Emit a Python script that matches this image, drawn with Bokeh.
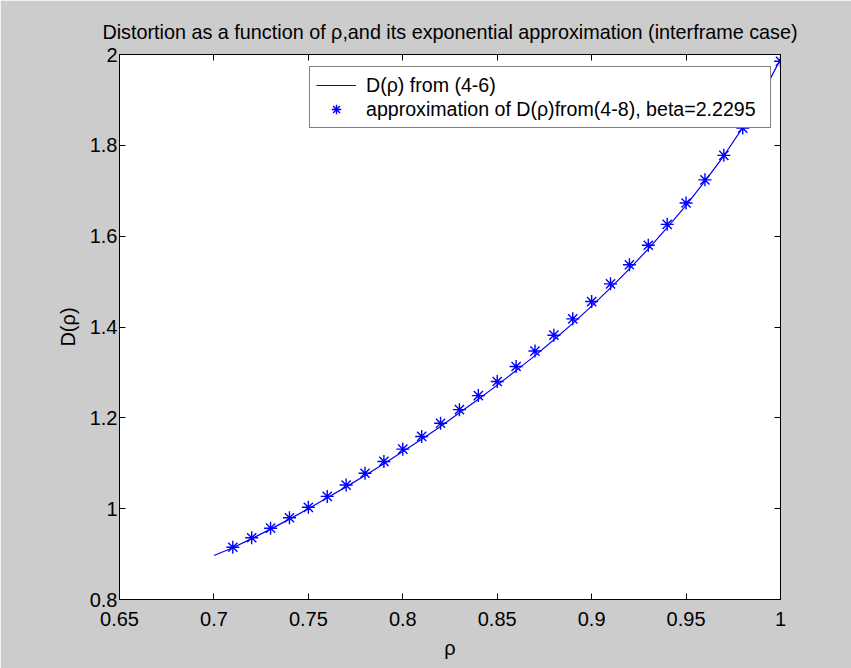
from bokeh.plotting import figure
from bokeh.models import LinearAxis, Range1d, FixedTicker, Legend, LegendItem
from bokeh.embed import file_html
from bokeh.resources import INLINE

# data
rho_curve = [0.70, 0.71, 0.72, 0.73, 0.74, 0.75, 0.76, 0.77, 0.78, 0.79, 0.80,
             0.81, 0.82, 0.83, 0.84, 0.85, 0.86, 0.87, 0.88, 0.89, 0.90,
             0.91, 0.92, 0.93, 0.94, 0.95, 0.96, 0.97, 0.98, 0.99, 1.00]
d_curve = [0.897, 0.914, 0.934, 0.955, 0.977, 1.000, 1.024, 1.048, 1.073, 1.099, 1.126,
           1.153, 1.181, 1.211, 1.241, 1.272, 1.304, 1.337, 1.372, 1.408, 1.446,
           1.486, 1.528, 1.572, 1.619, 1.668, 1.721, 1.777, 1.839, 1.910, 1.990]
rho_approx = [0.71, 0.72, 0.73, 0.74, 0.75, 0.76, 0.77, 0.78, 0.79, 0.80,
              0.81, 0.82, 0.83, 0.84, 0.85, 0.86, 0.87, 0.88, 0.89, 0.90,
              0.91, 0.92, 0.93, 0.94, 0.95, 0.96, 0.97, 0.98, 0.99, 1.00]
d_approx = [0.915, 0.936, 0.957, 0.980, 1.003, 1.027, 1.052, 1.078, 1.104, 1.131,
            1.159, 1.188, 1.218, 1.249, 1.280, 1.313, 1.347, 1.382, 1.418, 1.456,
            1.495, 1.537, 1.580, 1.626, 1.673, 1.724, 1.778, 1.838, 1.905, 1.985]
x_ticks = [0.65, 0.7, 0.75, 0.8, 0.85, 0.9, 0.95, 1.0]
y_ticks = [0.8, 1.0, 1.2, 1.4, 1.6, 1.8, 2.0]

FONT = "Liberation Sans"
FS = "20px"
BG = "#cccccc"

p = figure(width=851, height=668, output_backend="svg", toolbar_location=None,
           x_range=Range1d(0.65, 1.0), y_range=Range1d(0.8, 2.0),
           min_border_left=119, min_border_right=71, min_border_top=54, min_border_bottom=69)
p.background_fill_color = "white"
p.border_fill_color = BG
p.outline_line_color = "black"
p.grid.visible = False

p.title.text = "Distortion as a function of \u03c1,and its exponential approximation (interframe case)"
p.title.align = "center"
p.title.text_font = FONT
p.title.text_font_size = "19.8px"
p.title.text_font_style = "normal"
p.title.text_color = "black"
p.title.standoff = 24

def style_axis(ax, labels=True):
    ax.axis_line_color = "black"
    ax.major_tick_line_color = "black"
    ax.major_tick_in = 6
    ax.major_tick_out = 0
    ax.minor_tick_line_color = None
    ax.major_label_text_font = FONT
    ax.major_label_text_font_size = FS
    ax.major_label_text_color = "black"
    ax.axis_label_text_font = FONT
    ax.axis_label_text_font_size = FS
    ax.axis_label_text_font_style = "normal"
    ax.axis_label_text_color = "black"
    if not labels:
        ax.major_label_text_color = None
        ax.major_label_standoff = 0

p.xaxis.ticker = FixedTicker(ticks=x_ticks)
p.yaxis.ticker = FixedTicker(ticks=y_ticks)
p.xaxis.major_label_overrides = {0.65: "0.65", 0.7: "0.7", 0.75: "0.75", 0.8: "0.8",
                                 0.85: "0.85", 0.9: "0.9", 0.95: "0.95", 1.0: "1"}
p.yaxis.major_label_overrides = {0.8: "0.8", 1.0: "1", 1.2: "1.2", 1.4: "1.4",
                                 1.6: "1.6", 1.8: "1.8", 2.0: "2"}
p.xaxis.axis_label = "\u03c1"
p.yaxis.axis_label = "D(\u03c1)"
style_axis(p.xaxis[0])
style_axis(p.yaxis[0])
p.xaxis.major_label_standoff = 12
p.yaxis.major_label_standoff = 2
p.xaxis.axis_label_standoff = 8
p.yaxis.axis_label_standoff = 8

top = LinearAxis(ticker=FixedTicker(ticks=x_ticks))
style_axis(top, labels=False)
right = LinearAxis(ticker=FixedTicker(ticks=y_ticks))
style_axis(right, labels=False)
p.add_layout(top, "above")
p.add_layout(right, "right")

l1 = p.line(rho_curve, d_curve, line_color="#0000ff", line_width=1.2)
l2 = p.scatter(rho_approx, d_approx, marker="asterisk", size=13,
               line_color="#0000ff", line_width=1.4)

legend = Legend(items=[LegendItem(label="D(\u03c1) from (4-6)", renderers=[l1]),
                       LegendItem(label="approximation of D(\u03c1)from(4-8), beta=2.2295", renderers=[l2])],
                location=(190, 471))
legend.label_text_font = FONT
legend.label_text_font_size = "19.6px"
legend.label_text_color = "black"
legend.border_line_color = "black"
legend.border_line_width = 1
legend.background_fill_alpha = 1
legend.padding = 6
legend.spacing = 0
legend.glyph_width = 40
legend.label_standoff = 10
legend.label_width = 398
legend.label_height = 24
legend.glyph_height = 24
legend.margin = 0
p.add_layout(legend, "center")

open("out.html", "w").write(file_html(p, INLINE))
